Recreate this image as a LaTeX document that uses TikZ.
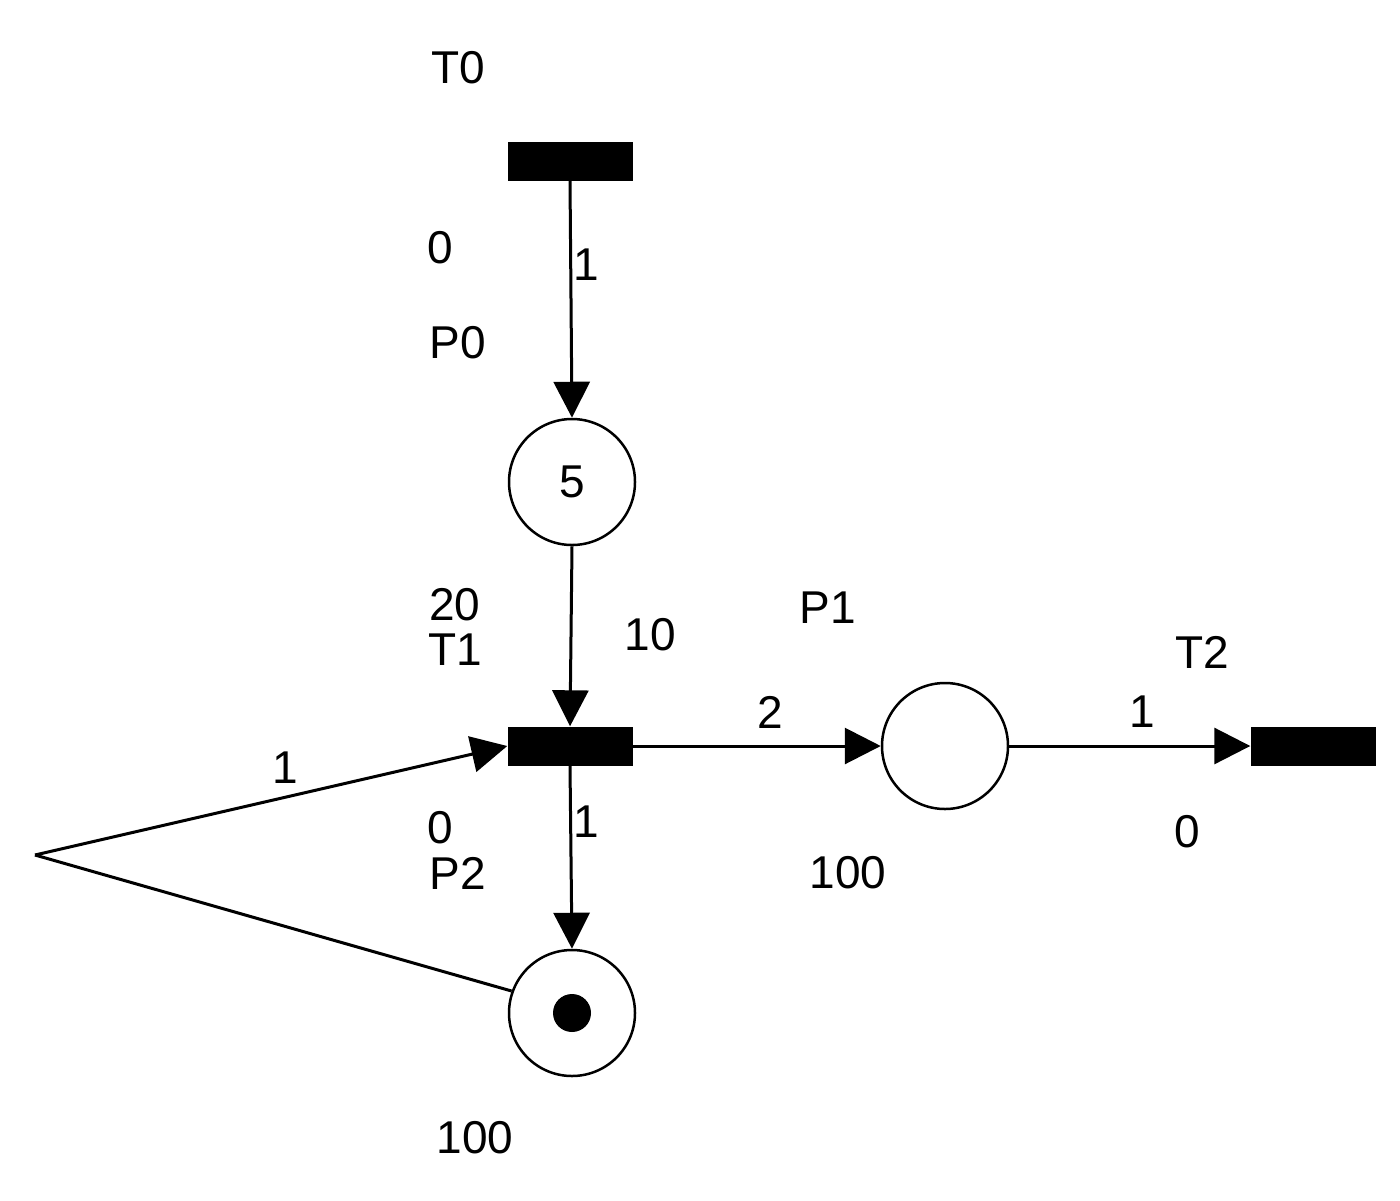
\documentclass[tikz,border=0pt]{standalone}
\usepackage{fontspec}
\setmainfont{Liberation Sans}
\usetikzlibrary{arrows.meta}
\begin{document}
\begin{tikzpicture}[x=1pt,y=-1pt,
  tr/.style={fill=black,minimum width=125pt,minimum height=39pt,inner sep=0pt},
  pl/.style={circle,draw,line width=2.5pt,minimum size=126pt,inner sep=0pt},
  arc/.style={line width=3pt,-{Triangle[length=36pt,width=36pt]}},
  lb/.style={font=\fontsize{46}{46}\selectfont}]
\useasboundingbox (0,0) rectangle (1400,1200);
\node[tr] (T0) at (570,161) {};
\node[pl] (P0) at (572,482) {};
\node[lb] at (572,482) {5};
\node[tr] (T1) at (570,746) {};
\node[pl] (P1) at (945,746) {};
\node[tr] (T2) at (1313,746) {};
\node[pl] (P2) at (572,1013) {};
\node[circle,fill=black,minimum size=38pt,inner sep=0pt] (tok) at (572,1013) {};
\coordinate (L) at (35,855);
\draw[arc] (T0.south) -- (P0.north);
\draw[arc] (P0.south) -- (T1.north);
\draw[arc] (T1.east) -- (P1.west);
\draw[arc] (P1.east) -- (T2.west);
\draw[arc] (T1.south) -- (P2.north);
\draw[line width=3pt] (P2.160) -- (L);
\draw[arc] (L) -- (T1.west);
\node[lb] at (458,68) {T0};
\node[lb] at (440,248) {0};
\node[lb] at (586,265) {1};
\node[lb] at (458,343) {P0};
\node[lb] at (455,605) {20};
\node[lb] at (455,650) {T1};
\node[lb] at (650,635) {10};
\node[lb] at (828,608) {P1};
\node[lb] at (770,712) {2};
\node[lb] at (848,873) {100};
\node[lb] at (1142,712) {1};
\node[lb] at (1202,652) {T2};
\node[lb] at (1187,832) {0};
\node[lb] at (586,822) {1};
\node[lb] at (440,828) {0};
\node[lb] at (458,873) {P2};
\node[lb] at (475,1138) {100};
\node[lb] at (285,768) {1};
\end{tikzpicture}
\end{document}
